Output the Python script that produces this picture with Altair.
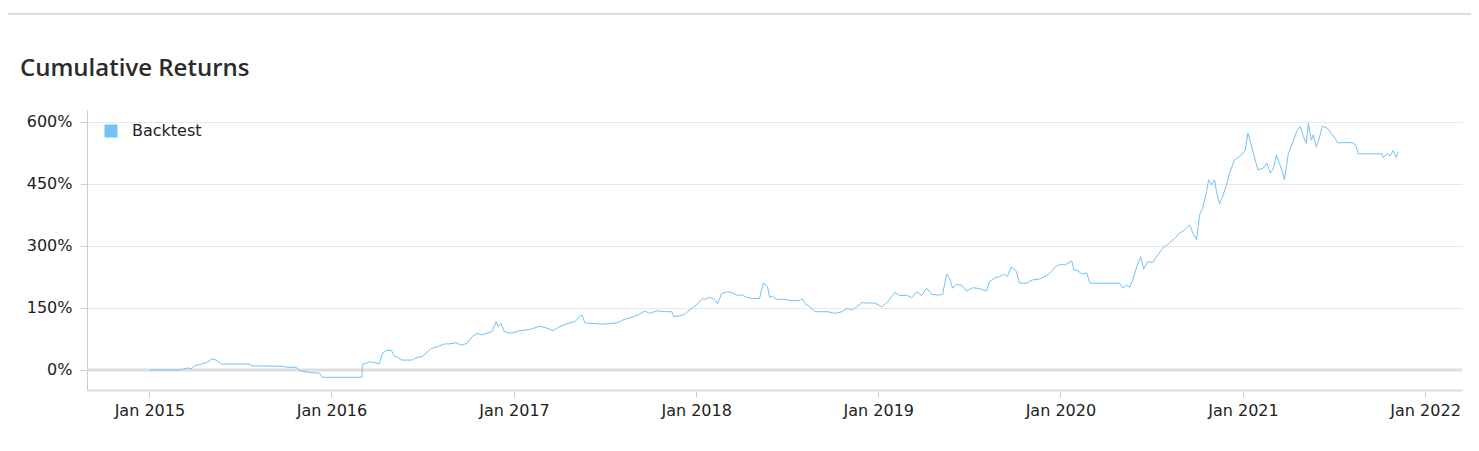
import altair as alt
import pandas as pd

# ---- data ----
dates = [
    "2015-01-01", "2015-03-02", "2015-03-08", "2015-03-18", "2015-03-26", "2015-04-01",
    "2015-04-11", "2015-04-25", "2015-05-01", "2015-05-07", "2015-05-15", "2015-05-25",
    "2015-07-20", "2015-07-26", "2015-09-25", "2015-10-03", "2015-10-23", "2015-10-29",
    "2015-11-12", "2015-12-08", "2015-12-14",
    "2016-03-02", "2016-03-03", "2016-03-05", "2016-03-07", "2016-03-17", "2016-03-27",
    "2016-04-06", "2016-04-12", "2016-04-20", "2016-04-30", "2016-05-06", "2016-05-12",
    "2016-05-20", "2016-06-11", "2016-06-21", "2016-07-01", "2016-07-11", "2016-07-19",
    "2016-07-31", "2016-08-14", "2016-08-24", "2016-09-07", "2016-09-17", "2016-09-29",
    "2016-10-09", "2016-10-19", "2016-10-29", "2016-11-08", "2016-11-18", "2016-11-26",
    "2016-11-30", "2016-12-06", "2016-12-12", "2016-12-26",
    "2017-01-12", "2017-02-01", "2017-02-22", "2017-03-08", "2017-03-20", "2017-04-03",
    "2017-04-19", "2017-05-03", "2017-05-13", "2017-05-17", "2017-05-23", "2017-06-02",
    "2017-06-28", "2017-07-26", "2017-08-11", "2017-08-25", "2017-09-06", "2017-09-20",
    "2017-09-30", "2017-10-14", "2017-11-03", "2017-11-13", "2017-11-17", "2017-11-29",
    "2017-12-09", "2017-12-23",
    "2018-01-04", "2018-01-14", "2018-01-18", "2018-01-28", "2018-02-07", "2018-02-13",
    "2018-02-21", "2018-03-03", "2018-03-13", "2018-03-23", "2018-04-04", "2018-04-12",
    "2018-04-24", "2018-05-08", "2018-05-12", "2018-05-16", "2018-05-24", "2018-05-28",
    "2018-06-03", "2018-06-11", "2018-06-23", "2018-07-12", "2018-07-28", "2018-08-01",
    "2018-08-07", "2018-08-17", "2018-08-27", "2018-09-10", "2018-09-22", "2018-10-06",
    "2018-10-20", "2018-10-30", "2018-11-09", "2018-11-19", "2018-11-29", "2018-12-11",
    "2018-12-25",
    "2019-01-08", "2019-01-20", "2019-02-03", "2019-02-13", "2019-02-27", "2019-03-09",
    "2019-03-19", "2019-03-29", "2019-04-08", "2019-04-18", "2019-04-30", "2019-05-10",
    "2019-05-18", "2019-05-24", "2019-05-30", "2019-06-07", "2019-06-17", "2019-06-27",
    "2019-07-09", "2019-07-23", "2019-08-06", "2019-08-12", "2019-08-22", "2019-09-01",
    "2019-09-11", "2019-09-17", "2019-09-25", "2019-10-05", "2019-10-11", "2019-10-25",
    "2019-11-06", "2019-11-20", "2019-12-04", "2019-12-14", "2019-12-24",
    "2020-01-04", "2020-01-10", "2020-01-24", "2020-01-28", "2020-02-05", "2020-02-13",
    "2020-02-23", "2020-02-29", "2020-04-29", "2020-05-05", "2020-05-13", "2020-05-19",
    "2020-05-25", "2020-06-02", "2020-06-10", "2020-06-16", "2020-06-24", "2020-07-04",
    "2020-07-14", "2020-07-24", "2020-08-07", "2020-08-17", "2020-08-27", "2020-09-06",
    "2020-09-16", "2020-09-22", "2020-09-30", "2020-10-06", "2020-10-12", "2020-10-20",
    "2020-10-24", "2020-10-30", "2020-11-05", "2020-11-09", "2020-11-15", "2020-11-21",
    "2020-11-29", "2020-12-05", "2020-12-15", "2020-12-25",
    "2021-01-05", "2021-01-11", "2021-01-15", "2021-01-21", "2021-01-31", "2021-02-10",
    "2021-02-18", "2021-02-25", "2021-03-03", "2021-03-09", "2021-03-15", "2021-03-21",
    "2021-03-25", "2021-04-02", "2021-04-10", "2021-04-20", "2021-04-26", "2021-05-02",
    "2021-05-08", "2021-05-12", "2021-05-18", "2021-05-22", "2021-05-28", "2021-06-01",
    "2021-06-09", "2021-06-19", "2021-06-29", "2021-07-05", "2021-07-09", "2021-08-10",
    "2021-08-16", "2021-08-20", "2021-10-07", "2021-10-09", "2021-10-17", "2021-10-23",
    "2021-10-29", "2021-11-04", "2021-11-08",
]

returns = [
    0, 0, 1.5, 5, 3, 10,
    13, 18, 22, 27, 24, 14.5,
    14.5, 10, 9, 6.5, 6.5, -1.5,
    -5, -8, -17.7,
    -17.7, 8, 16, 14.5, 20, 18,
    14.5, 40, 47, 48, 34, 31,
    24, 24, 31, 32, 44, 52,
    56, 63, 63, 66, 60, 64.5,
    80.6, 89, 85, 89, 93, 117,
    105, 113, 93, 89,
    95, 98, 106, 101, 95, 105,
    113, 117, 131, 133, 114, 113,
    111, 114, 123, 127, 133, 143,
    137, 143, 141, 141, 129, 131,
    135, 149,
    160, 173, 171, 176, 171, 160,
    185, 189, 188, 181, 181, 176,
    173, 173, 194, 210, 202, 176,
    178, 171, 171, 168, 168, 173,
    161, 152, 141, 141, 141, 137,
    141, 149, 145, 153, 163, 162,
    162,
    153, 165, 188, 180, 181, 175,
    189, 180, 198, 183, 181, 183,
    232, 222, 198, 207, 205, 191,
    199, 197, 191, 214, 222, 226,
    232, 226, 250, 238, 210, 210,
    218, 220, 228, 238, 252,
    256, 254, 264, 242, 240, 232,
    235, 210, 210, 198, 205, 200,
    218, 250, 274, 244, 262, 260,
    278, 294, 308, 318, 331, 339,
    351, 333, 315, 375, 391, 431,
    460, 448, 460, 431, 402, 419,
    448, 476, 508, 516,
    530, 573, 556, 528, 484, 488,
    500, 476, 488, 520, 500, 480,
    460, 524, 548, 581, 589, 565,
    548, 597, 556, 569, 539, 552,
    590, 585, 569, 560, 550, 550,
    540, 523, 523, 514, 523, 518,
    531, 514, 528,
]

series_name = "Backtest"
y_ticks = [0, 150, 300, 450, 600]
x_ticks = ["2015-01-01", "2016-01-01", "2017-01-01", "2018-01-01",
           "2019-01-01", "2020-01-01", "2021-01-01", "2022-01-01"]
zero_line = [0]

LINE_COLOR = "#72c2f7"

df = pd.DataFrame({"date": dates, "ret": returns, "series": series_name})
zero_df = pd.DataFrame({"ret": zero_line})
sep_df = pd.DataFrame({"k": [0]})

x_scale = alt.Scale(domain=["2014-08-29", "2022-03-16"])
y_scale = alt.Scale(domain=[-48.4, 629], nice=False, zero=False)

zero_rule = alt.Chart(zero_df).mark_rule(color="#dedede", strokeWidth=3).encode(
    y=alt.Y("ret:Q", scale=y_scale)
)

line = alt.Chart(df).mark_line(strokeWidth=1).encode(
    x=alt.X(
        "date:T",
        scale=x_scale,
        axis=alt.Axis(
            title=None,
            values=x_ticks,
            format="Jan %Y",
            formatType="time",
            grid=False,
            domainColor="#dcdcdc",
            domainWidth=2,
            tickColor="#cccccc",
            tickSize=7,
            labelPadding=5,
            labelFont="DejaVu Sans",
            labelFontSize=16,
            labelColor="#222222",
        ),
    ),
    y=alt.Y(
        "ret:Q",
        scale=y_scale,
        axis=alt.Axis(
            title=None,
            values=y_ticks,
            labelExpr="datum.value + '%'",
            grid=True,
            gridColor="#e8e8e8",
            gridWidth=1,
            domainColor="#cccccc",
            domainWidth=1,
            tickColor="#cccccc",
            tickSize=7,
            labelPadding=8,
            labelFont="DejaVu Sans",
            labelFontSize=16,
            labelColor="#222222",
        ),
    ),
    color=alt.Color(
        "series:N",
        scale=alt.Scale(domain=[series_name], range=[LINE_COLOR]),
        legend=alt.Legend(
            title=None,
            orient="none",
            legendX=16,
            legendY=13,
            padding=0,
            symbolType="square",
            symbolSize=169,
            symbolFillColor=LINE_COLOR,
            symbolStrokeColor=LINE_COLOR,
            symbolStrokeWidth=0,
            labelFont="DejaVu Sans",
            labelFontSize=16,
            labelColor="#222222",
            labelOffset=13,
        ),
    ),
)

separator = alt.Chart(sep_df).mark_rule(color="#bbbbbb", strokeWidth=1).encode(
    x=alt.value(-79), x2=alt.value(1392), y=alt.value(-96)
)

chart = alt.layer(zero_rule, line, separator).properties(
    width=1375,
    height=280,
    autosize=alt.AutoSizeParams(type="none"),
    padding={"left": 79, "top": 102, "right": 9, "bottom": 40},
    title=alt.TitleParams(
        "Cumulative Returns",
        anchor="start",
        frame="group",
        dx=-67,
        dy=86,
        offset=0,
        baseline="alphabetic",
        font="Open Sans",
        fontSize=24,
        fontWeight=600,
        color="#2b2b2b",
    ),
).configure(background="white").configure_view(strokeWidth=0)

chart.save("out.html", embed_options={"renderer": "svg", "actions": False})
